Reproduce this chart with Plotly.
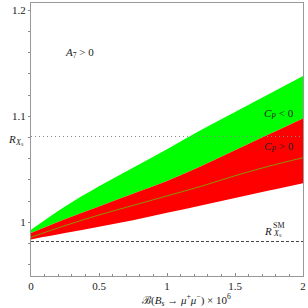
import plotly.graph_objects as go

x = [0, 0.25, 0.5, 0.75, 1.0, 1.25, 1.5, 1.75, 2.0]
green_top = [0.993, 1.015, 1.034, 1.0515, 1.069, 1.087, 1.104, 1.121, 1.138]
red_top = [0.990, 1.003, 1.015, 1.027, 1.039, 1.053, 1.068, 1.083, 1.098]
central = [0.986, 0.997, 1.007, 1.016, 1.025, 1.034, 1.044, 1.053, 1.061]
red_bottom = [0.984, 0.990, 0.996, 1.002, 1.009, 1.016, 1.023, 1.030, 1.037]
r_xs = 1.081
r_sm = 0.982
x_ticks = [0, 0.5, 1, 1.5, 2]
x_tick_labels = ["0", "0.5", "1", "1.5", "2"]
y_ticks = [1, 1.1, 1.2]
y_tick_labels = ["1", "1.1", "1.2"]

FONT = "Liberation Serif"

fig = go.Figure()
# green band
fig.add_trace(go.Scatter(x=x, y=red_top, mode="lines", line=dict(width=0, color="#00ff00", shape="spline"),
                         showlegend=False, hoverinfo="skip"))
fig.add_trace(go.Scatter(x=x, y=green_top, mode="lines", line=dict(width=0, color="#00ff00", shape="spline"),
                         fill="tonexty", fillcolor="#00ff00", showlegend=False, hoverinfo="skip"))
# red band
fig.add_trace(go.Scatter(x=x, y=red_bottom, mode="lines", line=dict(width=0, color="#ff0000", shape="spline"),
                         showlegend=False, hoverinfo="skip"))
fig.add_trace(go.Scatter(x=x, y=red_top, mode="lines", line=dict(width=0, color="#ff0000", shape="spline"),
                         fill="tonexty", fillcolor="#ff0000", showlegend=False, hoverinfo="skip"))
# central line
fig.add_trace(go.Scatter(x=x, y=central, mode="lines", line=dict(width=1, color="#8a9400", shape="spline"),
                         showlegend=False, hoverinfo="skip"))
# horizontal reference lines
fig.add_trace(go.Scatter(x=[0, 2], y=[r_xs, r_xs], mode="lines",
                         line=dict(width=1, color="#888888", dash="1px,3px"), showlegend=False, hoverinfo="skip"))
fig.add_trace(go.Scatter(x=[0, 2], y=[r_sm, r_sm], mode="lines",
                         line=dict(width=1, color="#444444", dash="3px,2px"), showlegend=False, hoverinfo="skip"))

ann_font = dict(family=FONT, size=11, color="#222222")
small_font = dict(family=FONT, size=8, color="#222222")
fig.add_annotation(x=0.36, y=1.16, xref="x", yref="y", text="<i>A</i><sub>7</sub> &gt; 0",
                   showarrow=False, font=ann_font)
fig.add_annotation(x=1.82, y=1.1026, xref="x", yref="y", text="<i>C<sub>P</sub></i> &lt; 0",
                   showarrow=False, font=ann_font)
fig.add_annotation(x=1.82, y=1.071, xref="x", yref="y", text="<i>C<sub>P</sub></i> &gt; 0",
                   showarrow=False, font=ann_font)
# R_Xs^SM (stacked super/subscript)
fig.add_annotation(x=1.745, y=0.9905, xref="x", yref="y", yshift=2, text="<i>R</i>",
                   showarrow=False, font=ann_font)
fig.add_annotation(x=1.766, y=0.9975, xref="x", yref="y", xanchor="left", text="SM",
                   showarrow=False, font=small_font)
fig.add_annotation(x=1.766, y=0.9885, xref="x", yref="y", xanchor="left", yshift=1, text="<i>X</i>ₛ",
                   showarrow=False, font=small_font)
# R_Xs label on the left
fig.add_annotation(x=-0.091, y=0.502, xref="paper", yref="paper", text="<i>R</i>",
                   showarrow=False, font=ann_font)
fig.add_annotation(x=-0.0657, y=0.483, xref="paper", yref="paper", xanchor="left", yshift=2, text="<i>X</i>ₛ",
                   showarrow=False, font=small_font)
fig.add_annotation(x=0.573, y=-0.088, xref="paper", yref="paper", yanchor="middle",
                   text="ℬ(<i>B<sub>s</sub></i> → <i>μ</i><sup>+</sup><i>μ</i><sup>−</sup>) × 10<sup>6</sup>",
                   showarrow=False, font=ann_font)

fig.update_xaxes(range=[0, 2], tickvals=x_ticks, ticktext=x_tick_labels,
                 showline=True, linecolor="#999999", linewidth=1, mirror=True,
                 ticks="inside", ticklen=3, tickcolor="#888888",
                 minor=dict(dtick=0.1, ticks="inside", ticklen=2, tickcolor="#888888"),
                 showgrid=False, zeroline=False,
                 tickfont=dict(family=FONT, size=11, color="#222222"))
fig.update_yaxes(range=[0.9495, 1.2068], tickvals=y_ticks, ticktext=y_tick_labels,
                 showline=True, linecolor="#999999", linewidth=1, mirror=True,
                 ticks="outside", ticklen=2, tickcolor="#888888",
                 minor=dict(tickvals=[0.96, 0.98, 1.02, 1.04, 1.06, 1.08, 1.12, 1.14, 1.16, 1.18],
                            ticks="outside", ticklen=2, tickcolor="#888888"),
                 showgrid=False, zeroline=False,
                 tickfont=dict(family=FONT, size=11, color="#222222"))

fig.update_layout(width=308, height=308, margin=dict(l=31, r=3, t=2, b=32),
                  plot_bgcolor="white", paper_bgcolor="white", showlegend=False)

fig.write_html("out.html", config={"displayModeBar": False},
               post_script="document.body.style.margin='0';document.body.style.overflow='hidden';")
